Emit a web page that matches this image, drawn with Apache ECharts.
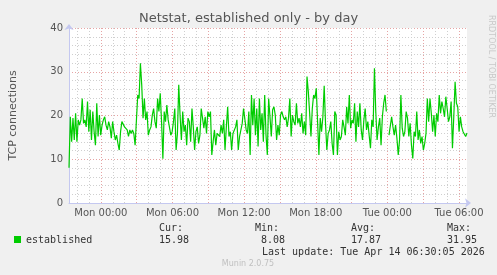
<!DOCTYPE html>
<html><head><meta charset="utf-8">
<script src="https://cdn.jsdelivr.net/npm/echarts@6/dist/echarts.min.js"></script>
<style>html,body{margin:0;padding:0;background:#f0f0f0}#c{width:497px;height:275px}</style>
</head><body><div id="c"></div>
<script>
const chartTitle = 'Netstat, established only - by day';
const yAxisName = 'TCP connections';
const seriesName = 'established';
const startHour = -2.6667;   // Sun 21:20 relative to Mon 00:00
const endHour = 30.6667;     // Tue 06:40
const tickHours = [0, 6, 12, 18, 24, 30];
const tickLabels = ['Mon 00:00', 'Mon 06:00', 'Mon 12:00', 'Mon 18:00', 'Tue 00:00', 'Tue 06:00'];
const minorGridHours = [];
for (let h = -2; h <= 30; h++) minorGridHours.push(h);
const majorGridHours = [0, 3, 6, 9, 12, 15, 18, 21, 24, 27, 30];

const establishedA = [
  8.08,19.7,14.0,19.4,14.4,20.5,14.0,19.0,17.8,19.0,
  23.9,18.2,19.0,17.4,23.2,16.3,21.3,14.4,20.9,16.3,
  13.2,22.8,15.2,20.1,15.5,17.8,19.0,19.7,17.8,16.7,
  18.6,17.4,14.8,18.6,16.3,14.4,15.5,13.6,12.1,16.3,
  18.6,19.0,17.4,17.8,16.7,15.2,16.7,15.9,16.7,15.9,
  13.2,19.0,24.7,23.9,31.95,27.0,19.4,23.9,19.0,20.9,
  15.5,16.7,17.4,20.1,21.6,18.6,17.1,23.9,20.9,25.1,
  18.6,10.1,20.9,18.6,22.4,19.0,18.6,15.5,16.3,18.6,
  21.6,12.1,15.9,27.0,20.1,14.4,20.9,16.3,17.8,13.2,
  19.4,18.6,14.0,21.6,17.4,12.1,16.3,17.4,13.6,15.5,
  21.6
];
const establishedB = [
  22.0,17.1,19.7,15.9,20.9,19.7,20.9,11.0,14.0,16.7,
  13.2,15.9,16.3,15.2,17.8,15.9,19.0,12.1,17.4,22.0,
  15.2,16.3,12.1,15.9,16.3,17.4,19.0,12.1,15.2,15.2,
  18.2,21.6,22.0,16.7,15.9,20.9,11.0,24.7,17.8,23.9,
  15.5,21.6,12.9,23.9,16.7,20.5,14.0,24.7,15.5,11.0,
  23.9,19.7,15.2,21.3,22.0,20.1,14.4,17.8,15.5,20.1,
  20.9,19.7,19.0,19.7,17.4,19.4,23.9,15.2,20.1,18.6,
  17.8,22.8,18.2,19.4,17.4,20.5,15.9,18.6,15.5,28.9,
  25.4,20.5,15.2,21.6,24.7,23.9,26.2,18.6,11.0,19.4,
  16.3,19.7,26.8,18.2,12.1,15.9,16.7,18.6,13.6,11.0,
  20.9
];
const establishedC = [
  20.1,11.0,16.3,14.4,15.2,19.0,17.4,15.5,22.0,18.2,
  24.7,17.1,19.0,18.2,22.8,14.0,20.9,17.4,22.8,16.7,
  14.4,19.0,21.6,16.7,18.6,15.5,12.5,19.0,17.4,30.8,
  20.9,14.4,17.4,19.4,13.2,19.7,22.8,24.7,20.9,null,
  15.5,15.9,19.7,17.4,15.5,17.8,14.8,11.0,14.4,24.7,
  17.1,15.2,16.3,20.9,19.4,15.2,18.2,13.2,10.2,16.3,
  15.2,20.9,14.4,16.7,13.6,15.2,12.1,13.6,15.9,23.9,
  18.6,23.9,20.5,16.3,20.1,15.2,20.5,18.6,24.7,20.5,
  23.2,21.6,19.7,24.3,21.6,18.6,19.7,23.2,12.5,19.7,
  27.7,22.8,22.0,16.3,19.7,17.4,16.3,15.9,15.2,15.98
];
const statHeads = ['Cur:', 'Min:', 'Avg:', 'Max:'];
const statValues = ['15.98', '8.08', '17.87', '31.95'];
const lastUpdate = 'Last update: Tue Apr 14 06:30:05 2026';
const footer = 'Munin 2.0.75';
const sideText = 'RRDTOOL / TOBI OETIKER';

const values = establishedA.concat(establishedB, establishedC);
const step = (endHour - startHour) / (values.length - 1);
const seriesData = values.map((v, i) => [startHour + i * step, v]);

const FONT = 'DejaVu Sans';
const MONO = 'DejaVu Sans Mono';
const AXIS_COLOR = '#c4c8f0';
const MAJOR = '#e6a4a4';
const MINOR = '#cfcfcf';

const statHeadX = [159, 255, 351, 447];
const statValX = [159, 261, 351, 447];
const graphics = [
  { type: 'rect', shape: { x: 14, y: 236, width: 7, height: 7 }, style: { fill: '#00cc00' } },
  { type: 'text', x: 26, y: 240, style: { text: seriesName, font: '10px ' + MONO, fill: '#333', verticalAlign: 'middle' } },
  { type: 'text', x: 262, y: 252, style: { text: lastUpdate, font: '10px ' + MONO, fill: '#333', verticalAlign: 'middle' } },
  { type: 'text', x: 248, y: 264, style: { text: footer, font: '8px ' + FONT, fill: '#c0c0c0', align: 'center', verticalAlign: 'middle' } },
  { type: 'text', x: 491, y: 15, rotation: -Math.PI / 2, style: { text: sideText, font: '8px ' + FONT, fill: '#c8c8c8', verticalAlign: 'middle' } }
];
statHeads.forEach((t, i) => {
  graphics.push({ type: 'text', x: statHeadX[i], y: 228, style: { text: t, font: '10px ' + MONO, fill: '#333', verticalAlign: 'middle' } });
  graphics.push({ type: 'text', x: statValX[i], y: 240, style: { text: statValues[i], font: '10px ' + MONO, fill: '#333', verticalAlign: 'middle' } });
});

const chart = echarts.init(document.getElementById('c'), null, { renderer: 'canvas' });
chart.setOption({
  backgroundColor: '#f0f0f0',
  animation: false,
  title: {
    text: chartTitle, left: 'center', top: 7,
    textStyle: { fontFamily: FONT, fontSize: 13, fontWeight: 'normal', color: '#555' }
  },
  grid: { left: 67, right: 30, top: 28, bottom: 72, show: true, backgroundColor: '#ffffff', borderWidth: 0 },
  xAxis: [{
    type: 'value', min: startHour, max: endHour, position: 'bottom',
    axisLine: { show: true, onZero: false, lineStyle: { color: AXIS_COLOR, width: 1 }, symbol: ['none', 'arrow'], symbolSize: [7, 6], symbolOffset: [0, 4] },
    axisTick: { show: false, customValues: minorGridHours },
    axisLabel: {
      customValues: tickHours, margin: 5,
      formatter: v => tickLabels[tickHours.indexOf(Math.round(v))] || '',
      fontFamily: FONT, fontSize: 10, color: '#555'
    },
    splitLine: { show: true, lineStyle: { color: MINOR, type: [1, 2], width: 1 } },
    z: 1
  }, {
    type: 'value', min: startHour, max: endHour, position: 'bottom',
    axisLine: { show: false, onZero: false },
    axisTick: { show: false, customValues: majorGridHours },
    axisLabel: { show: false, customValues: majorGridHours },
    splitLine: { show: true, lineStyle: { color: MAJOR, type: [1, 2], width: 1 } },
    z: 2
  }],
  yAxis: {
    type: 'value', min: 0, max: 40, interval: 10,
    name: yAxisName, nameLocation: 'middle', nameGap: 50,
    nameTextStyle: { fontFamily: FONT, fontSize: 11, color: '#555' },
    axisLine: { show: true, onZero: false, lineStyle: { color: AXIS_COLOR, width: 1 }, symbol: ['none', 'arrow'], symbolSize: [7, 6], symbolOffset: [0, 4] },
    axisTick: { show: false },
    axisLabel: { fontFamily: FONT, fontSize: 10, color: '#555', margin: 6 },
    splitLine: { show: true, lineStyle: { color: MAJOR, type: [1, 2], width: 1 } },
    minorTick: { show: false, splitNumber: 5 },
    minorSplitLine: { show: true, lineStyle: { color: MINOR, type: [1, 2], width: 1 } }
  },
  series: [{
    name: seriesName, type: 'line', data: seriesData, showSymbol: false, symbol: 'none',
    xAxisIndex: 0, connectNulls: false, lineStyle: { color: '#00cc00', width: 1.2 }, itemStyle: { color: '#00cc00' },
    z: 3
  }],
  graphic: graphics
});
</script>
</body></html>
